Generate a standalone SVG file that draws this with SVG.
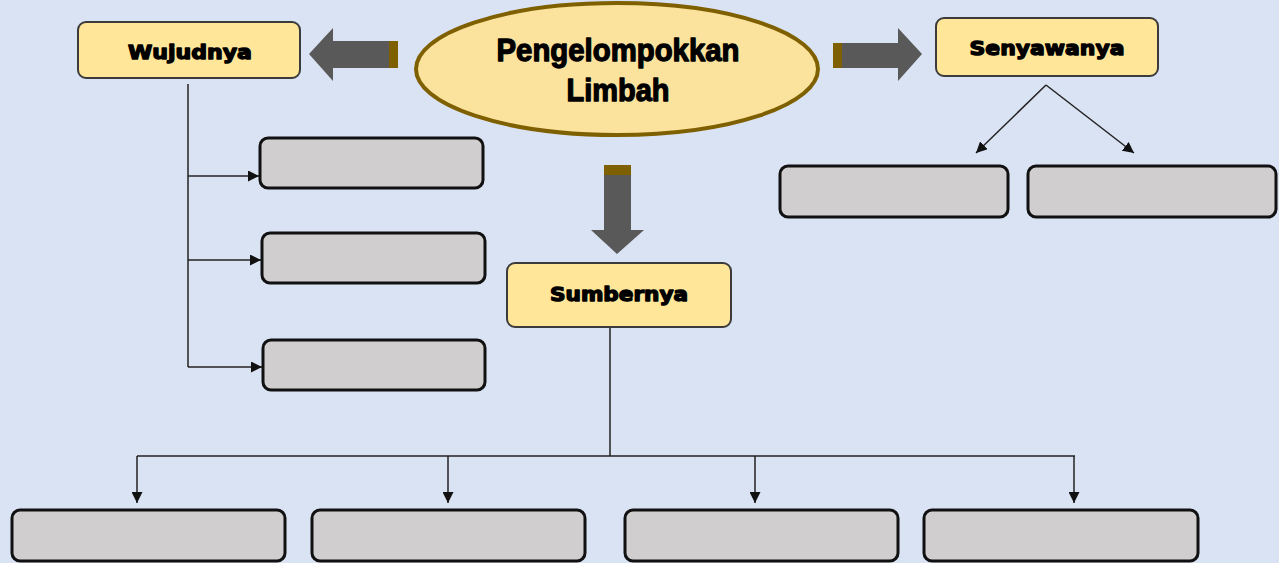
<svg xmlns="http://www.w3.org/2000/svg" width="1279" height="563" viewBox="0 0 1279 563">
<defs>
<style>
.hdr{fill:#ffe699;stroke:#3b3b3b;stroke-width:2}
.blank{fill:#d0cece;stroke:#111;stroke-width:3}
.lbl{font-family:"DejaVu Sans",sans-serif;font-weight:bold;font-size:19px;fill:#000;stroke:#000;stroke-width:1.3;stroke-linejoin:round;text-anchor:middle}
.title{font-family:"Liberation Sans",Arial,sans-serif;font-weight:bold;font-size:32px;fill:#000;stroke:#000;stroke-width:1.3;stroke-linejoin:round;text-anchor:middle}
.ln{fill:none;stroke:#222;stroke-width:1.5}
.big{fill:#595959}
.band{fill:#7f6000}
</style>
<marker id="ah" viewBox="0 0 10 10" refX="10" refY="5" markerWidth="11" markerHeight="11" markerUnits="userSpaceOnUse" orient="auto">
<path d="M0,0 L10,5 L0,10 z" fill="#111"/>
</marker>
</defs>
<rect width="1279" height="563" fill="#dae3f3"/>

<g id="connectors">
<polygon class="big" points="398,41 333,41 333,28 309,54 333,81 333,68 398,68"/>
<rect class="band" x="389" y="41" width="9" height="27"/>
<polygon class="big" points="833,43 898,43 898,28 922,54 898,81 898,68 833,68"/>
<rect class="band" x="833" y="43" width="9" height="25"/>
<polygon class="big" points="604,165 631,165 631,230 644,230 617,254 591,230 604,230"/>
<rect class="band" x="604" y="165" width="27" height="10"/>

<path class="ln" d="M188,84 V367"/>
<path class="ln" d="M188,176 H259" marker-end="url(#ah)"/>
<path class="ln" d="M188,260 H261" marker-end="url(#ah)"/>
<path class="ln" d="M188,367 H262" marker-end="url(#ah)"/>

<path class="ln" d="M1046,85 L976,153" marker-end="url(#ah)"/>
<path class="ln" d="M1046,85 L1134,153" marker-end="url(#ah)"/>

<path class="ln" d="M610,327 V456 M137,456 H1075"/>
<path class="ln" d="M137,456 V503" marker-end="url(#ah)"/>
<path class="ln" d="M448,456 V503" marker-end="url(#ah)"/>
<path class="ln" d="M755,456 V503" marker-end="url(#ah)"/>
<path class="ln" d="M1074,456 V503" marker-end="url(#ah)"/>
</g>

<g id="center">
<ellipse cx="617" cy="69" rx="201" ry="66" fill="#fbe29d" stroke="#7f6000" stroke-width="4"/>
<text class="title" x="618" y="61" textLength="243" lengthAdjust="spacingAndGlyphs">Pengelompokkan</text>
<text class="title" x="618" y="101" textLength="103" lengthAdjust="spacingAndGlyphs">Limbah</text>
</g>

<g id="wujudnya">
<rect class="hdr" x="78" y="22" width="222" height="56" rx="8"/>
<text class="lbl" x="190" y="59" textLength="124" lengthAdjust="spacingAndGlyphs">Wujudnya</text>
</g>
<g id="senyawanya">
<rect class="hdr" x="936" y="18" width="222" height="58" rx="8"/>
<text class="lbl" x="1047" y="55" textLength="155" lengthAdjust="spacingAndGlyphs">Senyawanya</text>
</g>
<g id="sumbernya">
<rect class="hdr" x="507" y="263" width="224" height="64" rx="8"/>
<text class="lbl" x="619" y="301" textLength="138" lengthAdjust="spacingAndGlyphs">Sumbernya</text>
</g>

<g id="wujud1"><rect class="blank" x="260" y="138" width="223" height="50" rx="8"/></g>
<g id="wujud2"><rect class="blank" x="262" y="233" width="223" height="50" rx="8"/></g>
<g id="wujud3"><rect class="blank" x="263" y="340" width="222" height="50" rx="8"/></g>

<g id="senyawa1"><rect class="blank" x="780" y="166" width="228" height="51" rx="8"/></g>
<g id="senyawa2"><rect class="blank" x="1028" y="166" width="248" height="51" rx="8"/></g>

<g id="sumber1"><rect class="blank" x="12" y="510" width="273" height="51" rx="8"/></g>
<g id="sumber2"><rect class="blank" x="312" y="510" width="273" height="51" rx="8"/></g>
<g id="sumber3"><rect class="blank" x="625" y="510" width="273" height="51" rx="8"/></g>
<g id="sumber4"><rect class="blank" x="924" y="510" width="274" height="51" rx="8"/></g>
</svg>
